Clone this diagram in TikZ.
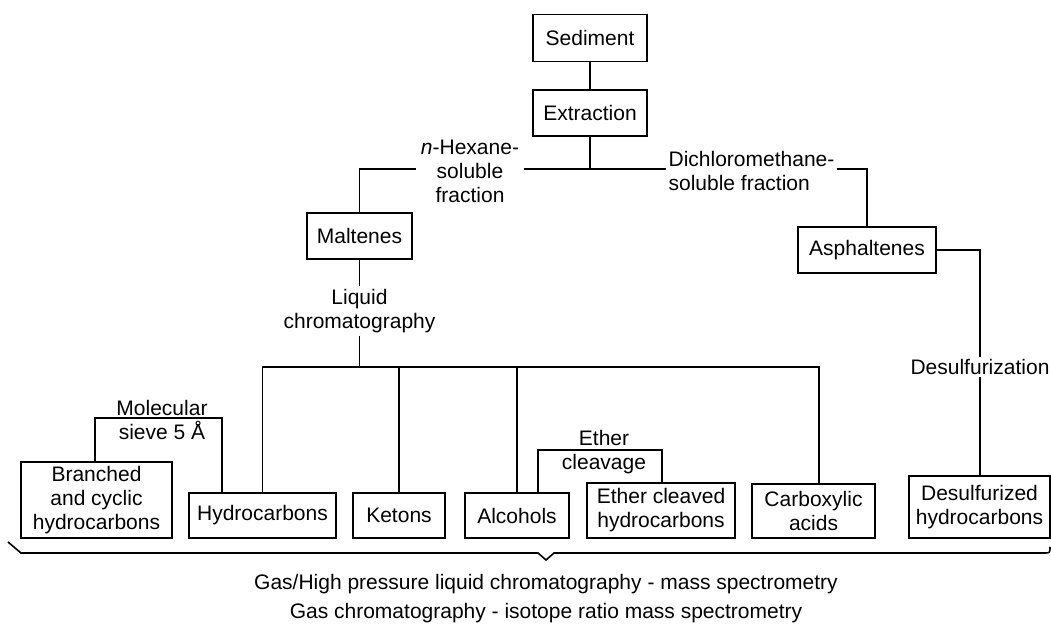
\documentclass[tikz,border=0pt]{standalone}
\usepackage{fontspec}
\setmainfont{Liberation Sans}
\begin{document}
\begin{tikzpicture}[x=1pt,y=-1pt,
  every node/.style={font=\fontsize{21}{24}\selectfont, align=center},
  box/.style={draw, line width=1.6pt, inner sep=0pt},
  lbl/.style={inner sep=3pt},
  conn/.style={line width=1.6pt}]
\useasboundingbox (0,0) rectangle (1051,628);
% boxes
\node[box, minimum width=114, minimum height=47] (sed) at (590,38) {Sediment};
\node[box, minimum width=114, minimum height=46] (ext) at (590,113) {Extraction};
\node[box, minimum width=105, minimum height=46] (mal) at (359.5,236) {Maltenes};
\node[box, minimum width=138, minimum height=46] (asp) at (867,250) {Asphaltenes};
\node[box, minimum width=151, minimum height=76] (bch) at (96.5,500) {Branched\\and cyclic\\hydrocarbons};
\node[box, minimum width=147, minimum height=45] (hyd) at (262.5,515.5) {Hydrocarbons};
\node[box, minimum width=92, minimum height=45] (ket) at (399,515.5) {Ketons};
\node[box, minimum width=104, minimum height=45] (alc) at (517,515.5) {Alcohols};
\node[box, minimum width=148, minimum height=55] (eth) at (661,510.5) {Ether cleaved\\hydrocarbons};
\node[box, minimum width=123, minimum height=54] (car) at (813.5,511) {Carboxylic\\acids};
\node[box, minimum width=141, minimum height=62] (des) at (979.5,507) {Desulfurized\\hydrocarbons};
% labels
\node[lbl, inner xsep=5pt] (hex) at (470,171) {\textit{n}-Hexane-\\soluble\\fraction};
\node[lbl, align=left, inner xsep=2pt] (dcm) at (751.5,171) {Dichloromethane-\\soluble fraction};
\node[lbl] (liq) at (359.5,311) {Liquid\\chromatography};
\node[lbl] (mol) at (162,420) {Molecular\\sieve 5 Å};
\node[lbl] (ethc) at (604,452) {Ether\\cleavage};
\node[lbl, inner sep=2pt] (dsf) at (980,367) {Desulfurization};
% coordinates
\coordinate (j1) at (590,169);
\coordinate (j2) at (359.5,367);
\coordinate (br) at (819,367);
\coordinate (m1) at (95,418);
\coordinate (m2) at (222,418);
\coordinate (e1) at (538,450);
\coordinate (e2) at (662,450);
% connectors
\draw[conn] (sed) -- (ext);
\draw[conn] (ext.south) -- (j1);
\draw[conn] (j1) -- (j1 -| hex.east);
\draw[conn] (hex.west |- j1) -| (mal.north);
\draw[conn] (j1) -- (j1 -| dcm.west);
\draw[conn] (dcm.east |- j1) -| (asp.north);
\draw[conn] (mal.south) -- (liq.north);
\draw[conn] (liq.south) -- (j2);
\draw[conn] (hyd.north) |- (br) -- (br |- car.north);
\draw[conn] (ket.north) -- (ket.north |- br);
\draw[conn] (alc.north) -- (alc.north |- br);
\draw[conn] (m1 |- bch.north) -- (m1) -- (m2) -- (m2 |- hyd.north);
\draw[conn] (e1 |- alc.north) -- (e1) -- (e2) -- (e2 |- eth.north);
\draw[conn] (asp.east) -| (dsf.north);
\draw[conn] (dsf.south) -- (dsf.south |- des.north);
% brace
\draw[conn, line join=miter] (8,542) -- (21,553) -- (538,553) -- (546,560) -- (554,553) -- (1044,553) .. controls (1050,553) .. (1050,547);
% bottom texts
\node (t1) at (546,584) {Gas/High pressure liquid chromatography - mass spectrometry};
\node (t2) at (546,613) {Gas chromatography - isotope ratio mass spectrometry};
\end{tikzpicture}
\end{document}
